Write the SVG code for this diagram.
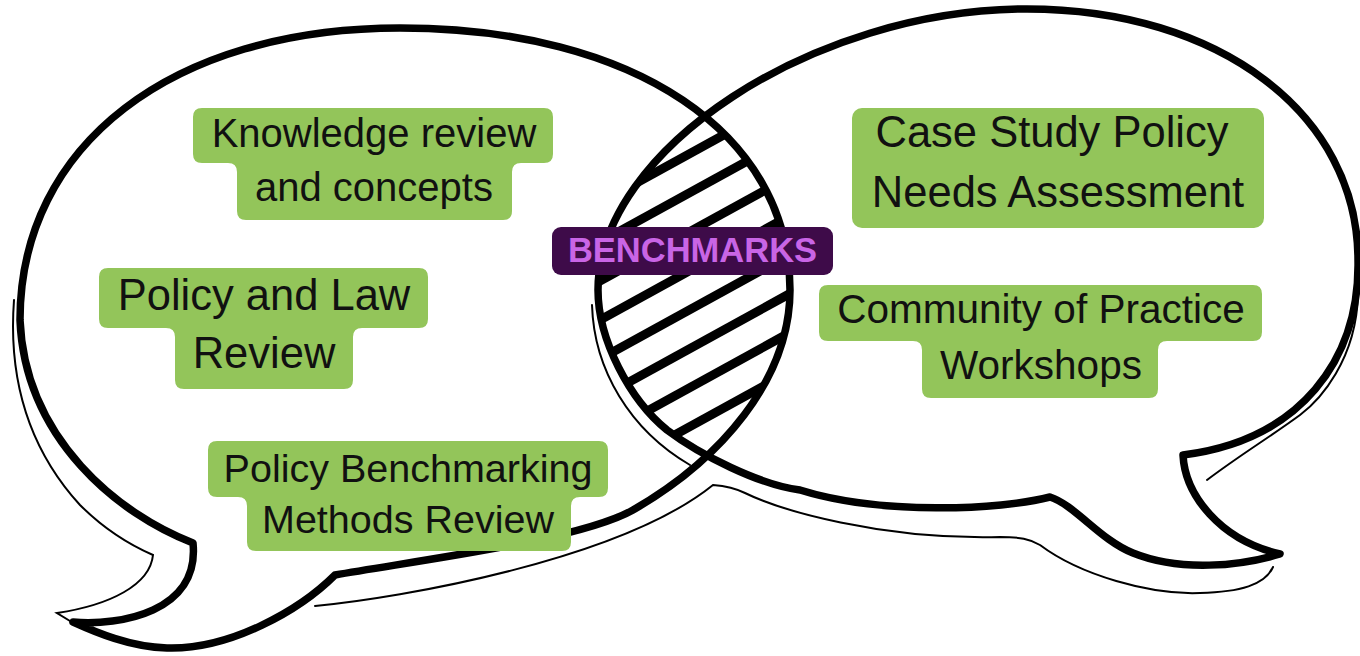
<svg xmlns="http://www.w3.org/2000/svg" width="1360" height="656" viewBox="0 0 1360 656">
<style>
.outline{fill:none;stroke:#000;stroke-width:7.5;stroke-linejoin:round;stroke-linecap:round}
.shadow{fill:none;stroke:#000;stroke-width:2;stroke-linecap:round}
.stripe{stroke:#000;stroke-width:9}
.box{fill:#93c55a}
.t{font-family:"Liberation Sans",Arial,sans-serif;fill:#111;text-anchor:middle}
.lbl{font-family:"Liberation Sans",Arial,sans-serif;font-weight:bold;fill:#c965e6;text-anchor:middle}
</style>
<defs>
<path id="leftShape" d="M 20,320 C 20,145 172,28 400,28 C 634,28 790,133 790,290 C 790,380 720,460 633,510 C 580,540 420,560 335,575 C 300,610 230,650 167,648 C 130,647 95,632 73,622 C 120,626 200,612 193,543 C 120,515 25,440 20,320 Z"/>
<path id="rightShape" d="M 598,290 C 598,150 813,9 1027,9 C 1219,9 1358,114 1358,260 C 1360,360 1300,440 1183,455 C 1185,495 1220,540 1280,554 C 1240,566 1180,572 1133,553 C 1100,540 1075,505 1050,497 C 1000,510 880,515 800,490 C 760,485 700,455 667,430 C 630,400 598,340 598,290 Z"/>
<clipPath id="clipL"><use href="#leftShape"/></clipPath>
<clipPath id="clipR"><use href="#rightShape"/></clipPath>
</defs>
<rect width="1360" height="656" fill="#fff"/>

<g id="lens" clip-path="url(#clipL)">
<g clip-path="url(#clipR)">
<line class="stripe" x1="560" y1="225" x2="820" y2="82"/>
<line class="stripe" x1="560" y1="264" x2="820" y2="121"/>
<line class="stripe" x1="560" y1="303" x2="820" y2="160"/>
<line class="stripe" x1="560" y1="342" x2="820" y2="199"/>
<line class="stripe" x1="560" y1="381" x2="820" y2="238"/>
<line class="stripe" x1="560" y1="420" x2="820" y2="277"/>
<line class="stripe" x1="560" y1="459" x2="820" y2="316"/>
<line class="stripe" x1="560" y1="498" x2="820" y2="355"/>
</g>
</g>

<g id="shadows">
<path class="shadow" d="M 14,300 C 8,380 30,450 80,505 C 105,530 130,545 153,555 C 150,585 110,605 57,613 L 70,621"/>
<path class="shadow" d="M 315,606 C 400,598 620,560 713,485 C 725,486 735,488 745,493 C 780,510 880,540 1000,537 C 1020,537 1030,539 1040,545 C 1080,575 1150,595 1200,593 C 1240,592 1265,585 1273,567"/>
<path class="shadow" d="M 1358,295 C 1356,360 1320,400 1300,415 C 1270,437 1240,455 1207,480"/>
<path class="shadow" d="M 592,305 C 594,370 630,430 690,465"/>
</g>

<g id="bubble-left"><use href="#leftShape" class="outline"/></g>
<g id="bubble-right"><use href="#rightShape" class="outline"/></g>

<g id="node-knowledge">
<path class="box" d="M 202,108 H 544 Q 553,108 553,117 V 154 Q 553,163 544,163 H 521 Q 512,163 512,172 V 211 Q 512,220 503,220 H 246 Q 237,220 237,211 V 172 Q 237,163 228,163 H 202 Q 193,163 193,154 V 117 Q 193,108 202,108 Z"/>
<text class="t" font-size="40" x="374" y="147">Knowledge review</text>
<text class="t" font-size="40" x="374" y="201">and concepts</text>
</g>

<g id="node-policy-law">
<path class="box" d="M 108,268 H 419 Q 428,268 428,277 V 319 Q 428,328 419,328 H 362 Q 353,328 353,337 V 380 Q 353,389 344,389 H 184 Q 175,389 175,380 V 337 Q 175,328 166,328 H 108 Q 99,328 99,319 V 277 Q 99,268 108,268 Z"/>
<text class="t" font-size="43.5" x="264" y="310">Policy and Law</text>
<text class="t" font-size="43.5" x="264" y="368">Review</text>
</g>

<g id="node-benchmarking-methods">
<path class="box" d="M 217,441 H 599 Q 608,441 608,450 V 488 Q 608,497 599,497 H 580 Q 571,497 571,506 V 542 Q 571,551 562,551 H 256 Q 247,551 247,542 V 506 Q 247,497 238,497 H 217 Q 208,497 208,488 V 450 Q 208,441 217,441 Z"/>
<text class="t" font-size="39.5" x="408" y="482">Policy Benchmarking</text>
<text class="t" font-size="39.5" x="408" y="533">Methods Review</text>
</g>

<g id="node-case-study">
<rect class="box" x="852" y="108" width="412" height="120" rx="10"/>
<text class="t" font-size="43.5" x="1052" y="147">Case Study Policy</text>
<text class="t" font-size="43.5" x="1058" y="207">Needs Assessment</text>
</g>

<g id="node-community">
<path class="box" d="M 828,285 H 1253 Q 1262,285 1262,294 V 332 Q 1262,341 1253,341 H 1167 Q 1158,341 1158,350 V 389 Q 1158,398 1149,398 H 931 Q 922,398 922,389 V 350 Q 922,341 913,341 H 828 Q 819,341 819,332 V 294 Q 819,285 828,285 Z"/>
<text class="t" font-size="40.5" x="1041" y="323">Community of Practice</text>
<text class="t" font-size="40.5" x="1041" y="379">Workshops</text>
</g>

<g id="node-benchmarks">
<rect x="552" y="227" width="281" height="48" rx="9" fill="#3e0b49"/>
<text class="lbl" font-size="34.5" x="692.5" y="262">BENCHMARKS</text>
</g>

<g id="connectors"/>
</svg>
